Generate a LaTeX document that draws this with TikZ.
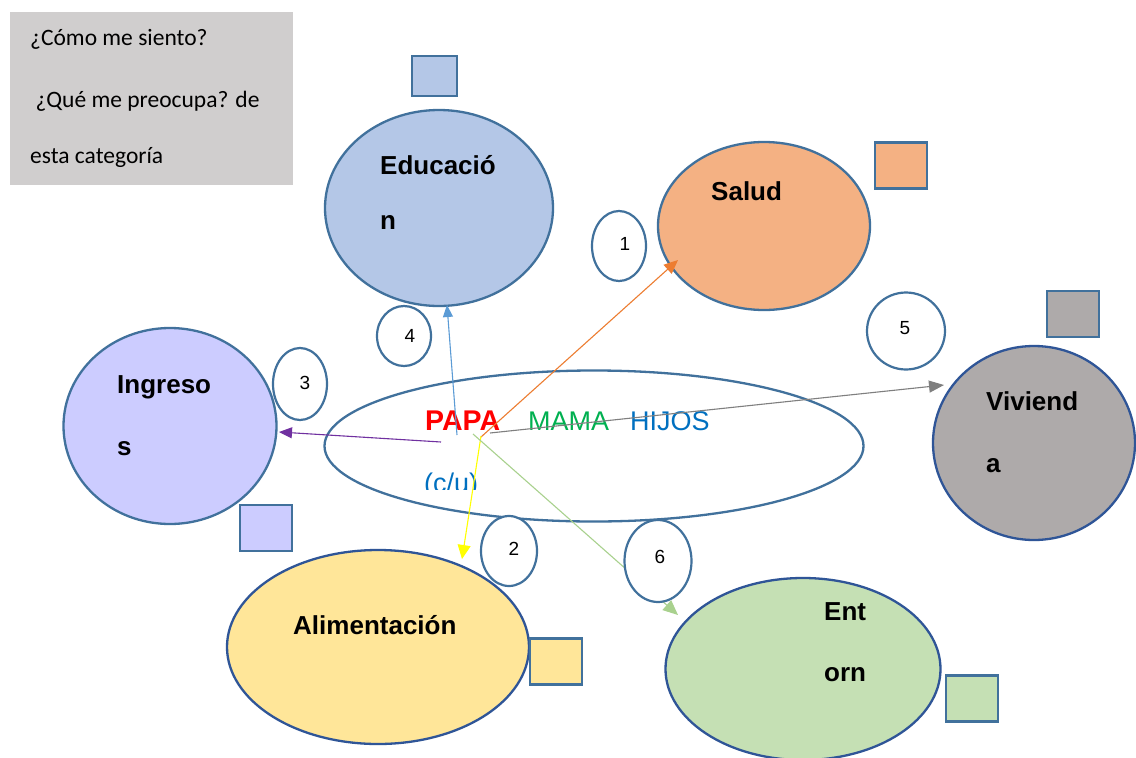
\documentclass[tikz,border=0pt]{standalone}
\usepackage{fontspec}
\setmainfont{Liberation Sans}
\newfontfamily\calfont{Carlito}
\usetikzlibrary{arrows.meta,shapes.geometric}
\definecolor{bord}{HTML}{41719C}
\definecolor{bordd}{HTML}{2F5597}
\definecolor{cgray}{HTML}{D0CECE}
\definecolor{cedu}{HTML}{B4C7E7}
\definecolor{csal}{HTML}{F4B183}
\definecolor{cing}{HTML}{CCCCFF}
\definecolor{cviv}{HTML}{AEAAAA}
\definecolor{cali}{HTML}{FFE699}
\definecolor{cent}{HTML}{C5E0B4}
\definecolor{aorange}{HTML}{ED7D31}
\definecolor{ablue}{HTML}{5B9BD5}
\definecolor{agray}{HTML}{7F7F7F}
\definecolor{apurple}{HTML}{7030A0}
\definecolor{ayellow}{HTML}{FFFF00}
\definecolor{agreen}{HTML}{A9D18E}
\definecolor{tgreen}{HTML}{00B050}
\definecolor{tblue}{HTML}{0070C0}
\definecolor{tred}{HTML}{FF0000}
\begin{document}
\begin{tikzpicture}[x=1pt,y=-1pt,
  bigell/.style={ellipse,draw=bord,line width=2.3pt,inner sep=0pt},
  numcirc/.style={ellipse,draw=bord,line width=2.2pt,fill=white,inner sep=0pt},
  sq/.style={rectangle,draw=bord,line width=2.3pt,inner sep=0pt,minimum width=52pt,minimum height=46pt},
  lbl/.style={anchor=base west,inner sep=0pt,font=\fontsize{26}{26}\selectfont\bfseries},
  num/.style={inner sep=0pt,font=\fontsize{19}{19}\selectfont},
  memb/.style={anchor=base west,inner sep=0pt,font=\fontsize{27}{27}\selectfont},
  gtxt/.style={anchor=base west,inner sep=0pt,font=\calfont\fontsize{23.5}{23.5}\selectfont},
  arr/.style={line width=1.1pt}
]
\useasboundingbox (0,0) rectangle (1136,758);
\fill[white] (0,0) rectangle (1136,758);

% gray question box
\node[rectangle,fill=cgray,minimum width=283pt,minimum height=173pt,inner sep=0pt] (qbox) at (151.5,98.5) {};
\node[gtxt] (q1) at (30,45) {¿Cómo me siento?};
\node[gtxt] (q2) at (30,107) {\ ¿Qué me preocupa? de};
\node[gtxt] (q3) at (30,163) {esta categoría};

% central ellipse
\node[bigell,fill=white,minimum width=539pt,minimum height=151pt] (fam) at (594,446) {};

% category ellipses
\node[bigell,fill=cedu,minimum width=228pt,minimum height=196pt] (edu) at (439,208) {};
\node[bigell,fill=csal,minimum width=212pt,minimum height=168pt] (sal) at (764,226) {};
\node[bigell,fill=cing,minimum width=213pt,minimum height=196pt] (ing) at (170,426) {};
\node[bigell,draw=bordd,fill=cviv,minimum width=202pt,minimum height=194pt] (viv) at (1034,443) {};
\node[bigell,draw=bordd,fill=cali,minimum width=302pt,minimum height=194pt] (ali) at (378,647) {};
\node[bigell,draw=bordd,fill=cent,minimum width=275pt,minimum height=182pt] (ent) at (803,669) {};

% squares
\node[sq,fill=cedu,minimum width=45pt,minimum height=40pt] (sqedu) at (434.5,76) {};
\node[sq,fill=csal] (sqsal) at (901,165.5) {};
\node[sq,fill=cviv] (sqviv) at (1073,314) {};
\node[sq,fill=cing] (sqing) at (266,528) {};
\node[sq,fill=cali] (sqali) at (556,661.5) {};
\node[sq,fill=cent] (sqent) at (972,698.5) {};

% labels
\node[lbl] (tedu1) at (380,174) {Educació};
\node[lbl] (tedu2) at (380,229) {n};
\node[lbl] (tsal) at (711,200) {Salud};
\node[lbl] (ting1) at (117,393) {Ingreso};
\node[lbl] (ting2) at (117,455) {s};
\node[lbl] (tviv1) at (986,410) {Viviend};
\node[lbl] (tviv2) at (986,472) {a};
\node[lbl] (tali) at (293,634) {Alimentación};
\node[lbl] (tent1) at (824,620) {Ent};
\node[lbl] (tent2) at (824,681) {orn};

% family members
\node[memb,text=tred,font=\fontsize{28.5}{28.5}\selectfont\bfseries] (papa) at (425,430) {PAPA};
\node[memb,text=tgreen] (mama) at (528,430) {MAMA};
\node[memb,text=tblue] (hijos) at (630,430) {HIJOS};
\begin{scope}
\clip (400,460) rectangle (500,489);
\node[memb,text=tblue] (cu) at (424,492) {(c/u)};
\end{scope}

% arrows
\coordinate (sblue) at (457,435);
\coordinate (eblue) at (447,305);
\coordinate (sorange) at (481,437);
\coordinate (eorange) at (678,260);
\coordinate (sgray) at (490,433);
\coordinate (egray) at (944,385);
\coordinate (spurple) at (441,442);
\coordinate (epurple) at (279,432);
\coordinate (syellow) at (481,436);
\coordinate (eyellow) at (462,559);
\coordinate (sgreen) at (473,434);
\coordinate (egreen) at (678,615);
\draw[arr,ablue,-{Triangle[length=12pt,width=10pt]}] (sblue) -- (eblue);
\draw[arr,aorange,-{Triangle[length=14pt,width=12pt]}] (sorange) -- (eorange);
\draw[arr,agray,-{Triangle[length=15pt,width=12pt]}] (sgray) -- (egray);
\draw[arr,apurple,-{Triangle[length=13pt,width=11pt]}] (spurple) -- (epurple);
\draw[arr,ayellow,-{Triangle[length=14pt,width=13pt]}] (syellow) -- (eyellow);
\draw[arr,agreen,-{Triangle[length=15pt,width=13pt]}] (sgreen) -- (egreen);

% number circles
\node[numcirc,minimum width=54pt,minimum height=70pt] (c1) at (619,246) {};
\node[num] (n1) at (625,244) {1};
\node[numcirc,minimum width=54pt,minimum height=60pt] (c4) at (404,336) {};
\node[num] (n4) at (410,336) {4};
\node[numcirc,minimum width=54pt,minimum height=72pt] (c3) at (300,384) {};
\node[num] (n3) at (305,383) {3};
\node[numcirc,minimum width=78pt,minimum height=77pt] (c5) at (906,331) {};
\node[num] (n5) at (905,328) {5};
\node[numcirc,minimum width=56pt,minimum height=70pt] (c2) at (509,551) {};
\node[num] (n2) at (514,549) {2};
\node[numcirc,minimum width=67pt,minimum height=82pt] (c6) at (658,561) {};
\node[num] (n6) at (660,557) {6};
\end{tikzpicture}
\end{document}
